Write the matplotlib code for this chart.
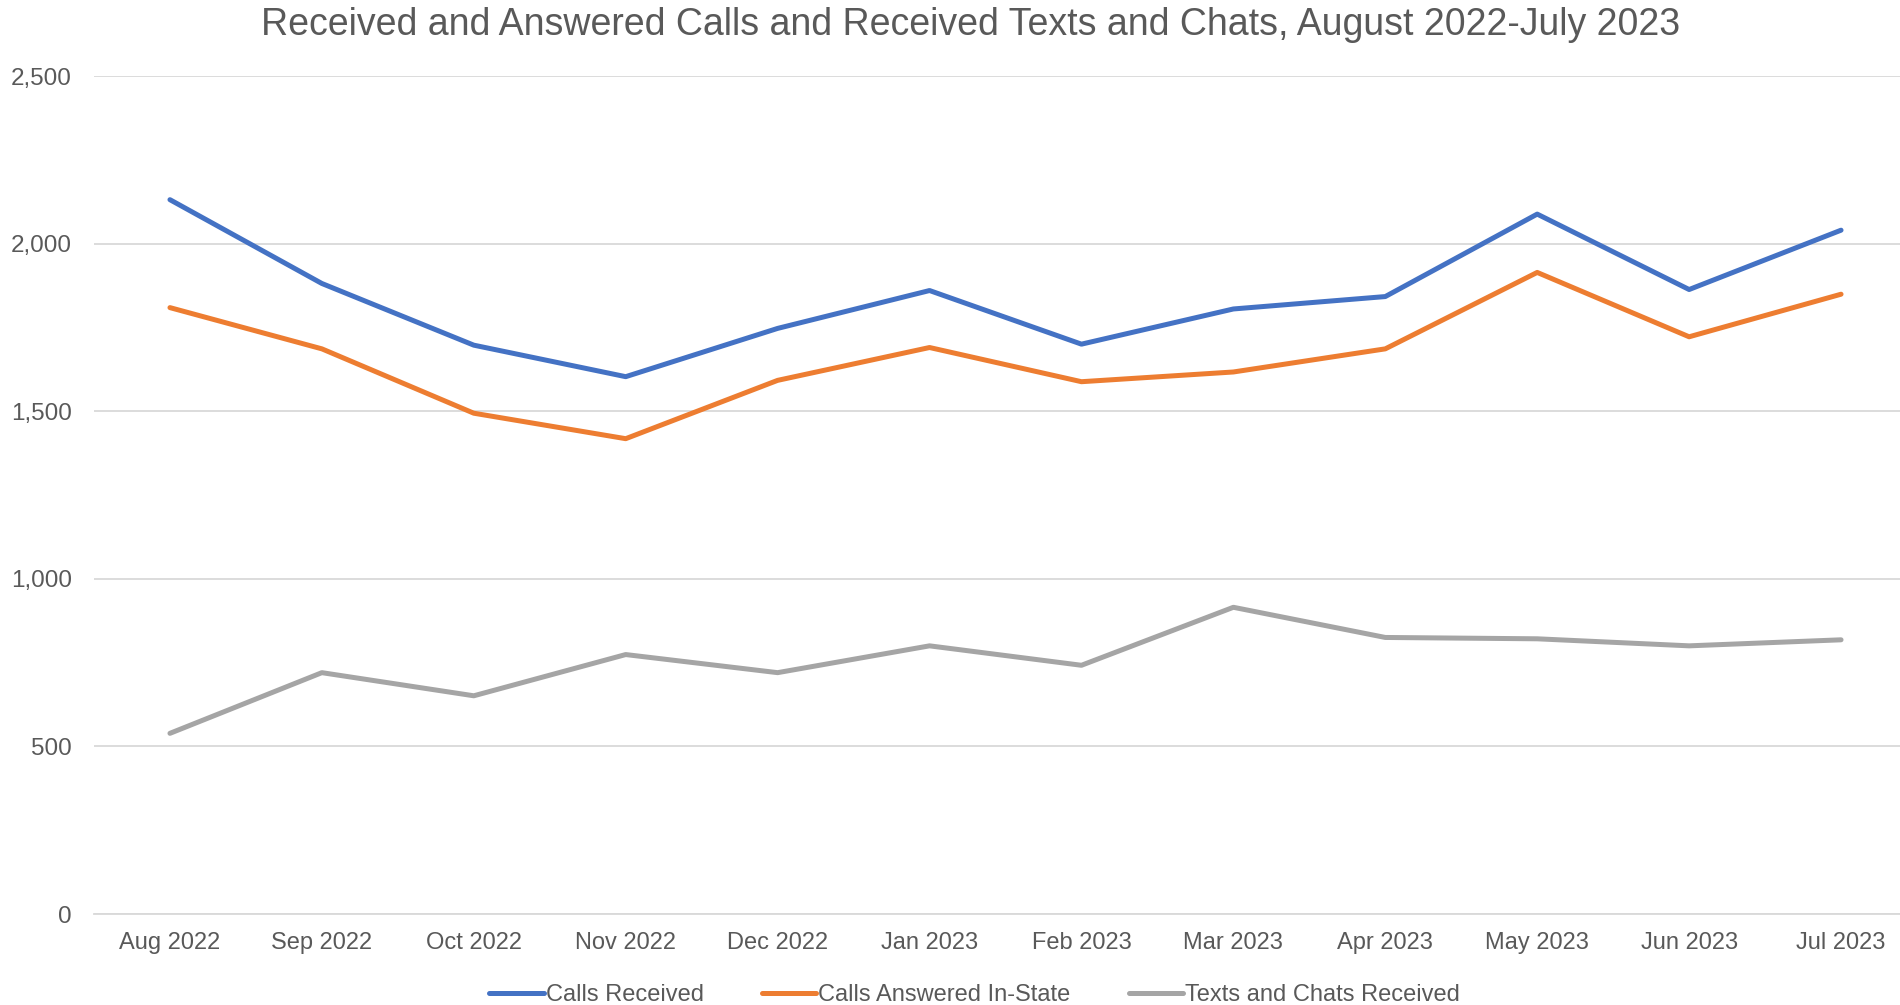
import matplotlib.pyplot as plt
from matplotlib.ticker import FuncFormatter

months = ['Aug 2022', 'Sep 2022', 'Oct 2022', 'Nov 2022', 'Dec 2022', 'Jan 2023',
          'Feb 2023', 'Mar 2023', 'Apr 2023', 'May 2023', 'Jun 2023', 'Jul 2023']
calls_received = [2131, 1881, 1697, 1603, 1747, 1860, 1700, 1805, 1842, 2088, 1863, 2040]
calls_answered = [1809, 1686, 1494, 1418, 1592, 1690, 1588, 1617, 1686, 1914, 1722, 1849]
texts_chats = [539, 720, 651, 774, 720, 800, 742, 915, 825, 821, 800, 818]

plt.rcParams['font.family'] = ['Liberation Sans', 'DejaVu Sans']
text_color = '#595959'

fig = plt.figure(figsize=(19, 10.05), dpi=100)
# plot area runs a little past the right edge of the picture, as in the original
ax = fig.add_axes([94 / 1900, 1 - 914 / 1005, 1823 / 1900, (914 - 76) / 1005])

x = range(len(months))
ax.plot(x, calls_received, color='#4472C4', lw=3.6, solid_capstyle='round', label='Calls Received')
ax.plot(x, calls_answered, color='#ED7D31', lw=3.6, solid_capstyle='round', label='Calls Answered In-State')
ax.plot(x, texts_chats, color='#A5A5A5', lw=3.6, solid_capstyle='round', label='Texts and Chats Received')

ax.set_xlim(-0.5, len(months) - 0.5)
ax.set_ylim(0, 2500)
ax.set_yticks(range(0, 2501, 500))
ax.yaxis.set_major_formatter(FuncFormatter(lambda v, p: f'{int(v):,}'))
ax.set_xticks(list(x))
ax.set_xticklabels(months)

ax.grid(axis='y', color='#d9d9d9', lw=1.3)
ax.set_axisbelow(True)
for s in ['top', 'right', 'left']:
    ax.spines[s].set_visible(False)
ax.spines['bottom'].set_color('#d9d9d9')
ax.spines['bottom'].set_linewidth(1.3)
ax.tick_params(axis='both', length=0, labelsize=17, labelcolor=text_color)
ax.tick_params(axis='x', pad=13)
ax.tick_params(axis='y', labelsize=17.5, pad=16)

fig.suptitle('Received and Answered Calls and Received Texts and Chats, August 2022-July 2023',
             x=0.511, y=0.993, va='top', fontsize=27, color=text_color)

fig.legend(loc='lower center', bbox_to_anchor=(0.513, -0.022), ncol=3, frameon=False,
           fontsize=17, labelcolor=text_color, handlelength=2.3, handletextpad=0.1,
           columnspacing=2.45)

fig.savefig('out.png', dpi=100)
